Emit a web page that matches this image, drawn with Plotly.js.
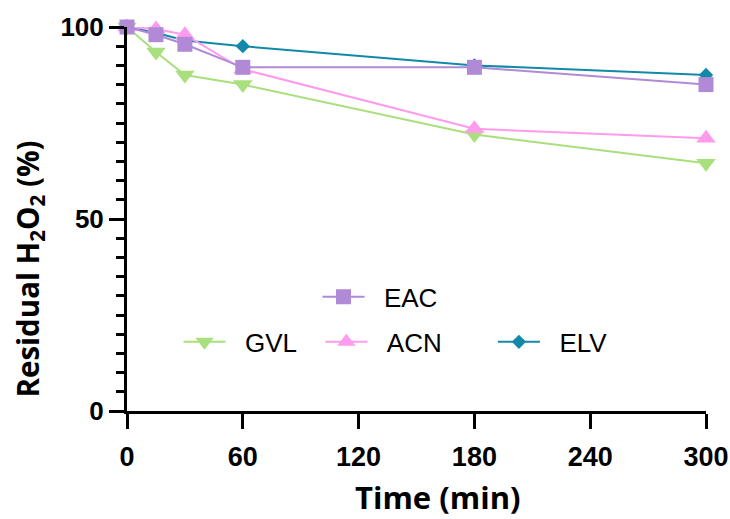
<!DOCTYPE html>
<html>
<head>
<meta charset="utf-8">
<script src="https://cdn.plot.ly/plotly-3.0.1.min.js"></script>
<style>html,body{margin:0;padding:0;background:#fff;}#chart{width:730px;height:519px;}</style>
</head>
<body>
<div id="chart"></div>
<script>
const time = [0, 15, 30, 60, 180, 300];
const gvl = [100, 93.5, 87.5, 85, 72, 64.5];
const acn = [100, 99.5, 98, 89, 73.5, 71];
const elv = [100, 98.5, 96.5, 95, 90, 87.5];
const eac = [100, 98, 95.5, 89.5, 89.5, 85];
const xTicks = [0, 60, 120, 180, 240, 300];
const yTicks = [0, 50, 100];
const xTitle = 'Time (min)';
const yTitle = 'Residual H<sub>2</sub>O<sub>2</sub> (%)';

const colors = {GVL: '#A9DF7D', ACN: '#FF9BEC', ELV: '#1389AA', EAC: '#B08AD6'};

function tr(name, y, symbol, size, legend) {
  return {
    x: time, y: y, name: '\u00a0\u00a0' + name, type: 'scatter', mode: 'lines+markers',
    line: {color: colors[name], width: 2},
    marker: {symbol: symbol, size: size, color: colors[name]},
    cliponaxis: false, legend: legend
  };
}

const data = [
  tr('GVL', gvl, 'triangle-down', 17, 'legend2'),
  tr('ELV', elv, 'diamond', 11, 'legend4'),
  tr('ACN', acn, 'triangle-up', 17, 'legend3'),
  tr('EAC', eac, 'square', 15, 'legend')
];

const legFont = {family: 'Arial, Liberation Sans, sans-serif', size: 26, color: '#000'};
function leg(x, y) {
  return {x: x, y: y, xanchor: 'left', yanchor: 'middle', bgcolor: 'rgba(0,0,0,0)',
          borderwidth: 0, font: legFont, itemwidth: 42, orientation: 'h'};
}
const xTickFont = {family: 'Arial, Liberation Sans, sans-serif', size: 27, color: '#000', weight: 'bold'};
const yTickFont = {family: 'Arial, Liberation Sans, sans-serif', size: 26, color: '#000', weight: 'bold'};

const layout = {
  width: 730, height: 519,
  margin: {l: 127, r: 24, t: 27, b: 108},
  paper_bgcolor: '#fff', plot_bgcolor: '#fff',
  showlegend: true,
  xaxis: {
    range: [0, 300], tickvals: xTicks, ticktext: xTicks.map(String),
    ticks: 'outside', ticklen: 15, tickwidth: 3, tickcolor: '#000',
    showline: true, linewidth: 3, linecolor: '#000', showgrid: false, zeroline: false,
    tickfont: xTickFont, ticklabelstandoff: 5
  },
  yaxis: {
    range: [0, 100], tickvals: yTicks, ticktext: yTicks.map(String),
    ticks: 'outside', ticklen: 15, tickwidth: 3, tickcolor: '#000',
    minor: {dtick: 5, ticks: 'outside', ticklen: 8, tickwidth: 3, tickcolor: '#000'},
    showline: true, linewidth: 3, linecolor: '#000', showgrid: false, zeroline: false,
    tickfont: yTickFont, ticklabelstandoff: 0
  },
  annotations: [
    {text: '<b>' + xTitle + '</b>', xref: 'paper', yref: 'paper', x: 0.537, y: -0.2805,
     xanchor: 'center', yanchor: 'bottom', showarrow: false, borderpad: 0,
     font: {family: 'Open Sans, sans-serif', size: 31, color: '#000'}},
    {text: '<b>' + yTitle + '</b>', xref: 'paper', yref: 'paper', x: -0.17, y: 0.37,
     xanchor: 'center', yanchor: 'middle', showarrow: false, textangle: -90,
     font: {family: 'Open Sans, sans-serif', size: 29.5, color: '#000'}}
  ],
  legend: leg(0.329, 0.297),
  legend2: leg(0.089, 0.18),
  legend3: leg(0.334, 0.18),
  legend4: leg(0.632, 0.18)
};

Plotly.newPlot('chart', data, layout, {displayModeBar: false, staticPlot: true});
</script>
</body>
</html>
